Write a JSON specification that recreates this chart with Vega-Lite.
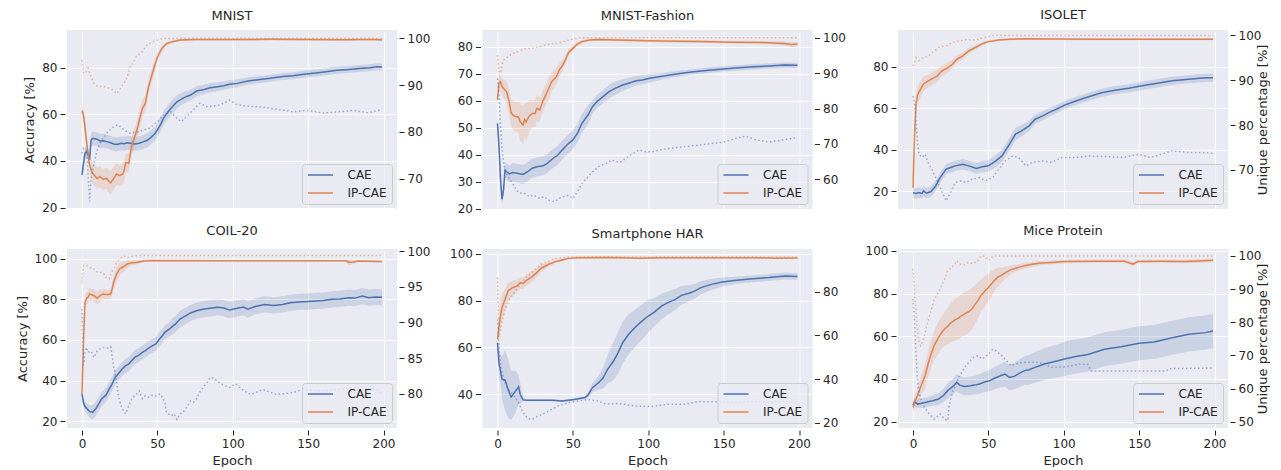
{
"$schema": "https://vega.github.io/schema/vega-lite/v6.json",
"background": "white",
"padding": {"left": 16, "top": 9, "right": 0, "bottom": 0},
"config": {
 "view": {"fill": "#EAEAF2", "stroke": null},
 "axis": {"domain": false, "grid": true, "gridColor": "#FFFFFF", "gridWidth": 1, "gridOpacity": 1, "tickColor": "#262626", "tickSize": 5, "tickWidth": 1, "offset": 2, "labelColor": "#262626", "labelFont": "DejaVu Sans", "labelFontSize": 12, "labelPadding": 3, "titleColor": "#262626", "titleFont": "DejaVu Sans", "titleFontSize": 13, "titleFontWeight": "normal", "titlePadding": 5},
 "title": {"font": "DejaVu Sans", "fontSize": 13, "fontWeight": "normal", "color": "#262626", "offset": 7},
 "legend": {"orient": "bottom-right", "offset": 5, "padding": 5, "fillColor": "rgba(234,234,242,0.8)", "strokeColor": "#CCCCCC", "cornerRadius": 3, "labelFont": "DejaVu Sans", "labelFontSize": 12, "labelColor": "#262626", "symbolType": "M-2.5,0H2.5", "symbolSize": 100, "symbolStrokeWidth": 1.5, "symbolOffset": 7.5, "labelOffset": 21, "rowPadding": 6}
},
"datasets": {
 "acc": [
  {"d":"MNIST","m":"CAE","e":0,"y":34,"lo":31,"hi":37},
  {"d":"MNIST","m":"CAE","e":1,"y":39,"lo":36,"hi":42},
  {"d":"MNIST","m":"CAE","e":2,"y":43.3,"lo":40.8,"hi":45.8},
  {"d":"MNIST","m":"CAE","e":3,"y":44,"lo":41.5,"hi":46.5},
  {"d":"MNIST","m":"CAE","e":4,"y":43,"lo":40.5,"hi":45.5},
  {"d":"MNIST","m":"CAE","e":5,"y":40.4,"lo":37.4,"hi":43.4},
  {"d":"MNIST","m":"CAE","e":6,"y":49,"lo":46,"hi":52},
  {"d":"MNIST","m":"CAE","e":7,"y":49.7,"lo":46.7,"hi":52.7},
  {"d":"MNIST","m":"CAE","e":10,"y":49.3,"lo":46.3,"hi":52.3},
  {"d":"MNIST","m":"CAE","e":12,"y":48.6,"lo":45.6,"hi":51.6},
  {"d":"MNIST","m":"CAE","e":14,"y":48.7,"lo":45.7,"hi":51.7},
  {"d":"MNIST","m":"CAE","e":17,"y":48.2,"lo":45.2,"hi":51.2},
  {"d":"MNIST","m":"CAE","e":19,"y":47.8,"lo":44.8,"hi":50.8},
  {"d":"MNIST","m":"CAE","e":21,"y":47.3,"lo":44.3,"hi":50.3},
  {"d":"MNIST","m":"CAE","e":23,"y":47.1,"lo":44.1,"hi":50.1},
  {"d":"MNIST","m":"CAE","e":26,"y":47.6,"lo":44.6,"hi":50.6},
  {"d":"MNIST","m":"CAE","e":28,"y":47.4,"lo":44.4,"hi":50.4},
  {"d":"MNIST","m":"CAE","e":30,"y":47.8,"lo":44.8,"hi":50.8},
  {"d":"MNIST","m":"CAE","e":32,"y":47.6,"lo":44.6,"hi":50.6},
  {"d":"MNIST","m":"CAE","e":35,"y":47.3,"lo":44.3,"hi":50.3},
  {"d":"MNIST","m":"CAE","e":38,"y":47.6,"lo":44.6,"hi":50.6},
  {"d":"MNIST","m":"CAE","e":41,"y":48.3,"lo":45.3,"hi":51.3},
  {"d":"MNIST","m":"CAE","e":43,"y":48.8,"lo":45.8,"hi":51.8},
  {"d":"MNIST","m":"CAE","e":45,"y":49.7,"lo":46.7,"hi":52.7},
  {"d":"MNIST","m":"CAE","e":48,"y":51.5,"lo":48.5,"hi":54.5},
  {"d":"MNIST","m":"CAE","e":50,"y":53.3,"lo":50.3,"hi":56.3},
  {"d":"MNIST","m":"CAE","e":52,"y":55.5,"lo":52.5,"hi":58.5},
  {"d":"MNIST","m":"CAE","e":54,"y":58.3,"lo":55.3,"hi":61.3},
  {"d":"MNIST","m":"CAE","e":56,"y":60.2,"lo":57.2,"hi":63.2},
  {"d":"MNIST","m":"CAE","e":59,"y":62.6,"lo":59.6,"hi":65.6},
  {"d":"MNIST","m":"CAE","e":61,"y":64,"lo":61,"hi":67},
  {"d":"MNIST","m":"CAE","e":63,"y":65.4,"lo":62.6,"hi":68.2},
  {"d":"MNIST","m":"CAE","e":66,"y":66.5,"lo":63.9,"hi":69.1},
  {"d":"MNIST","m":"CAE","e":68,"y":67.3,"lo":64.8,"hi":69.8},
  {"d":"MNIST","m":"CAE","e":72,"y":68.3,"lo":66,"hi":70.6},
  {"d":"MNIST","m":"CAE","e":76,"y":70,"lo":67.8,"hi":72.2},
  {"d":"MNIST","m":"CAE","e":81,"y":70.7,"lo":68.7,"hi":72.7},
  {"d":"MNIST","m":"CAE","e":85,"y":71.4,"lo":69.4,"hi":73.4},
  {"d":"MNIST","m":"CAE","e":90,"y":71.9,"lo":70,"hi":73.8},
  {"d":"MNIST","m":"CAE","e":94,"y":72.3,"lo":70.5,"hi":74.1},
  {"d":"MNIST","m":"CAE","e":98,"y":72.9,"lo":71.1,"hi":74.7},
  {"d":"MNIST","m":"CAE","e":103,"y":73.3,"lo":71.6,"hi":75},
  {"d":"MNIST","m":"CAE","e":110,"y":74.3,"lo":72.7,"hi":75.9},
  {"d":"MNIST","m":"CAE","e":118,"y":75,"lo":73.5,"hi":76.5},
  {"d":"MNIST","m":"CAE","e":125,"y":75.5,"lo":74,"hi":77},
  {"d":"MNIST","m":"CAE","e":133,"y":76.2,"lo":74.7,"hi":77.7},
  {"d":"MNIST","m":"CAE","e":140,"y":76.6,"lo":75.1,"hi":78.1},
  {"d":"MNIST","m":"CAE","e":147,"y":77.2,"lo":75.7,"hi":78.7},
  {"d":"MNIST","m":"CAE","e":155,"y":77.8,"lo":76.3,"hi":79.3},
  {"d":"MNIST","m":"CAE","e":162,"y":78.3,"lo":76.8,"hi":79.8},
  {"d":"MNIST","m":"CAE","e":169,"y":78.9,"lo":77.4,"hi":80.4},
  {"d":"MNIST","m":"CAE","e":177,"y":79.3,"lo":77.8,"hi":80.8},
  {"d":"MNIST","m":"CAE","e":184,"y":79.7,"lo":78.2,"hi":81.2},
  {"d":"MNIST","m":"CAE","e":191,"y":80,"lo":78.5,"hi":81.5},
  {"d":"MNIST","m":"CAE","e":196,"y":80.4,"lo":78.9,"hi":81.9},
  {"d":"MNIST","m":"CAE","e":199,"y":80.3,"lo":78.8,"hi":81.8},
  {"d":"MNIST","m":"IP-CAE","e":0,"y":61.6,"lo":58.6,"hi":64.6},
  {"d":"MNIST","m":"IP-CAE","e":1,"y":59.5,"lo":56.5,"hi":62.5},
  {"d":"MNIST","m":"IP-CAE","e":2,"y":54.5,"lo":51.5,"hi":57.5},
  {"d":"MNIST","m":"IP-CAE","e":3,"y":48.5,"lo":45.5,"hi":51.5},
  {"d":"MNIST","m":"IP-CAE","e":4,"y":43,"lo":40,"hi":46},
  {"d":"MNIST","m":"IP-CAE","e":5,"y":38.5,"lo":35,"hi":42},
  {"d":"MNIST","m":"IP-CAE","e":6,"y":36.3,"lo":32,"hi":40.6},
  {"d":"MNIST","m":"IP-CAE","e":7,"y":34.8,"lo":30.3,"hi":39.3},
  {"d":"MNIST","m":"IP-CAE","e":9,"y":33.2,"lo":28.7,"hi":37.7},
  {"d":"MNIST","m":"IP-CAE","e":10,"y":32.5,"lo":28,"hi":37},
  {"d":"MNIST","m":"IP-CAE","e":12,"y":33.3,"lo":28.8,"hi":37.8},
  {"d":"MNIST","m":"IP-CAE","e":14,"y":32.1,"lo":27.6,"hi":36.6},
  {"d":"MNIST","m":"IP-CAE","e":16,"y":32.6,"lo":28.1,"hi":37.1},
  {"d":"MNIST","m":"IP-CAE","e":18,"y":31.2,"lo":26.2,"hi":36.2},
  {"d":"MNIST","m":"IP-CAE","e":19,"y":30.6,"lo":25.6,"hi":35.6},
  {"d":"MNIST","m":"IP-CAE","e":21,"y":32.5,"lo":27.5,"hi":37.5},
  {"d":"MNIST","m":"IP-CAE","e":23,"y":34.4,"lo":29.9,"hi":38.9},
  {"d":"MNIST","m":"IP-CAE","e":25,"y":33.7,"lo":29.2,"hi":38.2},
  {"d":"MNIST","m":"IP-CAE","e":27,"y":34.4,"lo":29.9,"hi":38.9},
  {"d":"MNIST","m":"IP-CAE","e":28,"y":36,"lo":31.5,"hi":40.5},
  {"d":"MNIST","m":"IP-CAE","e":29,"y":39.3,"lo":35.3,"hi":43.3},
  {"d":"MNIST","m":"IP-CAE","e":31,"y":39,"lo":35,"hi":43},
  {"d":"MNIST","m":"IP-CAE","e":32,"y":43,"lo":39,"hi":47},
  {"d":"MNIST","m":"IP-CAE","e":33,"y":46.8,"lo":42.8,"hi":50.8},
  {"d":"MNIST","m":"IP-CAE","e":35,"y":50.4,"lo":46.4,"hi":54.4},
  {"d":"MNIST","m":"IP-CAE","e":37,"y":54.7,"lo":50.7,"hi":58.7},
  {"d":"MNIST","m":"IP-CAE","e":39,"y":60,"lo":56,"hi":64},
  {"d":"MNIST","m":"IP-CAE","e":40,"y":62.5,"lo":58.5,"hi":66.5},
  {"d":"MNIST","m":"IP-CAE","e":42,"y":64.7,"lo":61.2,"hi":68.2},
  {"d":"MNIST","m":"IP-CAE","e":44,"y":71.5,"lo":68.5,"hi":74.5},
  {"d":"MNIST","m":"IP-CAE","e":46,"y":76,"lo":73,"hi":79},
  {"d":"MNIST","m":"IP-CAE","e":48,"y":80.5,"lo":78,"hi":83},
  {"d":"MNIST","m":"IP-CAE","e":50,"y":84.5,"lo":82.5,"hi":86.5},
  {"d":"MNIST","m":"IP-CAE","e":51,"y":85.8,"lo":84.3,"hi":87.3},
  {"d":"MNIST","m":"IP-CAE","e":53,"y":88.3,"lo":87,"hi":89.6},
  {"d":"MNIST","m":"IP-CAE","e":56,"y":90.3,"lo":89.5,"hi":91.1},
  {"d":"MNIST","m":"IP-CAE","e":60,"y":91.2,"lo":90.7,"hi":91.7},
  {"d":"MNIST","m":"IP-CAE","e":65,"y":91.9,"lo":91.4,"hi":92.4},
  {"d":"MNIST","m":"IP-CAE","e":75,"y":92.1,"lo":91.6,"hi":92.6},
  {"d":"MNIST","m":"IP-CAE","e":100,"y":92.1,"lo":91.6,"hi":92.6},
  {"d":"MNIST","m":"IP-CAE","e":125,"y":92.2,"lo":91.7,"hi":92.7},
  {"d":"MNIST","m":"IP-CAE","e":150,"y":92.1,"lo":91.6,"hi":92.6},
  {"d":"MNIST","m":"IP-CAE","e":175,"y":92,"lo":91.5,"hi":92.5},
  {"d":"MNIST","m":"IP-CAE","e":185,"y":92.1,"lo":91.6,"hi":92.6},
  {"d":"MNIST","m":"IP-CAE","e":195,"y":92.1,"lo":91.6,"hi":92.6},
  {"d":"MNIST","m":"IP-CAE","e":199,"y":91.9,"lo":91.2,"hi":92.6},

  {"d":"Fashion","m":"CAE","e":0,"y":51.6,"lo":48.6,"hi":54.6},
  {"d":"Fashion","m":"CAE","e":1,"y":43,"lo":40,"hi":46},
  {"d":"Fashion","m":"CAE","e":2,"y":31,"lo":28,"hi":34},
  {"d":"Fashion","m":"CAE","e":3,"y":23.5,"lo":21.5,"hi":25.5},
  {"d":"Fashion","m":"CAE","e":4,"y":27,"lo":25,"hi":29},
  {"d":"Fashion","m":"CAE","e":5,"y":34.3,"lo":31.3,"hi":37.3},
  {"d":"Fashion","m":"CAE","e":6,"y":33.7,"lo":30.7,"hi":36.7},
  {"d":"Fashion","m":"CAE","e":8,"y":32.9,"lo":29.9,"hi":35.9},
  {"d":"Fashion","m":"CAE","e":10,"y":33.4,"lo":29.9,"hi":36.9},
  {"d":"Fashion","m":"CAE","e":13,"y":33.1,"lo":29.6,"hi":36.6},
  {"d":"Fashion","m":"CAE","e":17,"y":32.7,"lo":29.2,"hi":36.2},
  {"d":"Fashion","m":"CAE","e":20,"y":33.7,"lo":30.2,"hi":37.2},
  {"d":"Fashion","m":"CAE","e":23,"y":35,"lo":31.5,"hi":38.5},
  {"d":"Fashion","m":"CAE","e":27,"y":35.6,"lo":32.1,"hi":39.1},
  {"d":"Fashion","m":"CAE","e":30,"y":35.8,"lo":32.3,"hi":39.3},
  {"d":"Fashion","m":"CAE","e":33,"y":36.8,"lo":33.3,"hi":40.3},
  {"d":"Fashion","m":"CAE","e":37,"y":38.7,"lo":35.2,"hi":42.2},
  {"d":"Fashion","m":"CAE","e":40,"y":39.9,"lo":36.4,"hi":43.4},
  {"d":"Fashion","m":"CAE","e":43,"y":41.8,"lo":38.3,"hi":45.3},
  {"d":"Fashion","m":"CAE","e":46,"y":43.6,"lo":40.1,"hi":47.1},
  {"d":"Fashion","m":"CAE","e":50,"y":45.5,"lo":42,"hi":49},
  {"d":"Fashion","m":"CAE","e":53,"y":47.9,"lo":44.4,"hi":51.4},
  {"d":"Fashion","m":"CAE","e":56,"y":51.6,"lo":48.1,"hi":55.1},
  {"d":"Fashion","m":"CAE","e":60,"y":54.7,"lo":51.2,"hi":58.2},
  {"d":"Fashion","m":"CAE","e":63,"y":57.8,"lo":55.3,"hi":60.3},
  {"d":"Fashion","m":"CAE","e":66,"y":59.7,"lo":57.2,"hi":62.2},
  {"d":"Fashion","m":"CAE","e":70,"y":61.5,"lo":59,"hi":64},
  {"d":"Fashion","m":"CAE","e":74,"y":63.4,"lo":60.9,"hi":65.9},
  {"d":"Fashion","m":"CAE","e":78,"y":64.6,"lo":62.1,"hi":67.1},
  {"d":"Fashion","m":"CAE","e":83,"y":65.8,"lo":63.6,"hi":68},
  {"d":"Fashion","m":"CAE","e":87,"y":66.5,"lo":64.5,"hi":68.5},
  {"d":"Fashion","m":"CAE","e":92,"y":67.4,"lo":65.6,"hi":69.2},
  {"d":"Fashion","m":"CAE","e":96,"y":67.7,"lo":66,"hi":69.4},
  {"d":"Fashion","m":"CAE","e":101,"y":68.3,"lo":66.8,"hi":69.8},
  {"d":"Fashion","m":"CAE","e":110,"y":69.2,"lo":68,"hi":70.4},
  {"d":"Fashion","m":"CAE","e":120,"y":70,"lo":68.9,"hi":71.1},
  {"d":"Fashion","m":"CAE","e":130,"y":70.7,"lo":69.7,"hi":71.7},
  {"d":"Fashion","m":"CAE","e":140,"y":71.3,"lo":70.3,"hi":72.3},
  {"d":"Fashion","m":"CAE","e":150,"y":71.8,"lo":70.8,"hi":72.8},
  {"d":"Fashion","m":"CAE","e":160,"y":72.2,"lo":71.2,"hi":73.2},
  {"d":"Fashion","m":"CAE","e":170,"y":72.6,"lo":71.6,"hi":73.6},
  {"d":"Fashion","m":"CAE","e":180,"y":72.9,"lo":71.9,"hi":73.9},
  {"d":"Fashion","m":"CAE","e":190,"y":73.2,"lo":72.2,"hi":74.2},
  {"d":"Fashion","m":"CAE","e":199,"y":73.1,"lo":72.1,"hi":74.1},
  {"d":"Fashion","m":"IP-CAE","e":0,"y":60.3,"lo":57.3,"hi":63.3},
  {"d":"Fashion","m":"IP-CAE","e":1,"y":66.8,"lo":63.8,"hi":69.8},
  {"d":"Fashion","m":"IP-CAE","e":2,"y":67.1,"lo":64.1,"hi":70.1},
  {"d":"Fashion","m":"IP-CAE","e":3,"y":65.2,"lo":62.2,"hi":68.2},
  {"d":"Fashion","m":"IP-CAE","e":4,"y":64.5,"lo":61,"hi":68},
  {"d":"Fashion","m":"IP-CAE","e":6,"y":63.4,"lo":59.4,"hi":67.4},
  {"d":"Fashion","m":"IP-CAE","e":8,"y":59,"lo":54,"hi":64},
  {"d":"Fashion","m":"IP-CAE","e":9,"y":55.5,"lo":50.5,"hi":60.5},
  {"d":"Fashion","m":"IP-CAE","e":11,"y":54.3,"lo":48.8,"hi":59.8},
  {"d":"Fashion","m":"IP-CAE","e":13,"y":54.1,"lo":48.6,"hi":59.6},
  {"d":"Fashion","m":"IP-CAE","e":14,"y":53.9,"lo":47.9,"hi":59.9},
  {"d":"Fashion","m":"IP-CAE","e":15,"y":52.2,"lo":45.2,"hi":59.2},
  {"d":"Fashion","m":"IP-CAE","e":17,"y":51,"lo":44,"hi":58},
  {"d":"Fashion","m":"IP-CAE","e":18,"y":53.1,"lo":47.1,"hi":59.1},
  {"d":"Fashion","m":"IP-CAE","e":19,"y":52.2,"lo":45.2,"hi":59.2},
  {"d":"Fashion","m":"IP-CAE","e":21,"y":54.3,"lo":48.3,"hi":60.3},
  {"d":"Fashion","m":"IP-CAE","e":23,"y":55.3,"lo":50.3,"hi":60.3},
  {"d":"Fashion","m":"IP-CAE","e":25,"y":55.3,"lo":50.3,"hi":60.3},
  {"d":"Fashion","m":"IP-CAE","e":26,"y":57.2,"lo":52.2,"hi":62.2},
  {"d":"Fashion","m":"IP-CAE","e":28,"y":56.6,"lo":52.1,"hi":61.1},
  {"d":"Fashion","m":"IP-CAE","e":30,"y":59.7,"lo":55.7,"hi":63.7},
  {"d":"Fashion","m":"IP-CAE","e":32,"y":62.1,"lo":58.1,"hi":66.1},
  {"d":"Fashion","m":"IP-CAE","e":34,"y":64.6,"lo":60.6,"hi":68.6},
  {"d":"Fashion","m":"IP-CAE","e":36,"y":67.1,"lo":63.6,"hi":70.6},
  {"d":"Fashion","m":"IP-CAE","e":39,"y":68.9,"lo":65.9,"hi":71.9},
  {"d":"Fashion","m":"IP-CAE","e":41,"y":71.4,"lo":68.9,"hi":73.9},
  {"d":"Fashion","m":"IP-CAE","e":43,"y":72.9,"lo":70.9,"hi":74.9},
  {"d":"Fashion","m":"IP-CAE","e":45,"y":75.1,"lo":73.6,"hi":76.6},
  {"d":"Fashion","m":"IP-CAE","e":47,"y":77.8,"lo":76.6,"hi":79},
  {"d":"Fashion","m":"IP-CAE","e":50,"y":79.4,"lo":78.4,"hi":80.4},
  {"d":"Fashion","m":"IP-CAE","e":53,"y":81,"lo":80.2,"hi":81.8},
  {"d":"Fashion","m":"IP-CAE","e":56,"y":81.9,"lo":81.3,"hi":82.5},
  {"d":"Fashion","m":"IP-CAE","e":61,"y":82.5,"lo":82,"hi":83},
  {"d":"Fashion","m":"IP-CAE","e":67,"y":82.7,"lo":82.2,"hi":83.2},
  {"d":"Fashion","m":"IP-CAE","e":79,"y":82.5,"lo":82,"hi":83},
  {"d":"Fashion","m":"IP-CAE","e":100,"y":82.2,"lo":81.7,"hi":82.7},
  {"d":"Fashion","m":"IP-CAE","e":120,"y":82,"lo":81.5,"hi":82.5},
  {"d":"Fashion","m":"IP-CAE","e":135,"y":81.9,"lo":81.4,"hi":82.4},
  {"d":"Fashion","m":"IP-CAE","e":155,"y":81.7,"lo":81.2,"hi":82.2},
  {"d":"Fashion","m":"IP-CAE","e":180,"y":81.5,"lo":80.9,"hi":82.1},
  {"d":"Fashion","m":"IP-CAE","e":190,"y":81.2,"lo":80.5,"hi":81.9},
  {"d":"Fashion","m":"IP-CAE","e":195,"y":80.8,"lo":80,"hi":81.6},
  {"d":"Fashion","m":"IP-CAE","e":199,"y":81,"lo":80.2,"hi":81.8},

  {"d":"ISOLET","m":"CAE","e":0,"y":19.4,"lo":16.9,"hi":21.9},
  {"d":"ISOLET","m":"CAE","e":2,"y":19,"lo":16.5,"hi":21.5},
  {"d":"ISOLET","m":"CAE","e":4,"y":19.4,"lo":16.9,"hi":21.9},
  {"d":"ISOLET","m":"CAE","e":6,"y":19,"lo":16.5,"hi":21.5},
  {"d":"ISOLET","m":"CAE","e":7,"y":20.2,"lo":17.7,"hi":22.7},
  {"d":"ISOLET","m":"CAE","e":9,"y":19.1,"lo":16.6,"hi":21.6},
  {"d":"ISOLET","m":"CAE","e":12,"y":19.9,"lo":17.4,"hi":22.4},
  {"d":"ISOLET","m":"CAE","e":15,"y":22.6,"lo":20.1,"hi":25.1},
  {"d":"ISOLET","m":"CAE","e":18,"y":26.6,"lo":24.1,"hi":29.1},
  {"d":"ISOLET","m":"CAE","e":22,"y":30.7,"lo":28.2,"hi":33.2},
  {"d":"ISOLET","m":"CAE","e":25,"y":31.5,"lo":29,"hi":34},
  {"d":"ISOLET","m":"CAE","e":28,"y":32.3,"lo":29.8,"hi":34.8},
  {"d":"ISOLET","m":"CAE","e":33,"y":33.1,"lo":30.6,"hi":35.6},
  {"d":"ISOLET","m":"CAE","e":37,"y":32.3,"lo":29.8,"hi":34.8},
  {"d":"ISOLET","m":"CAE","e":42,"y":31,"lo":28.5,"hi":33.5},
  {"d":"ISOLET","m":"CAE","e":46,"y":31.9,"lo":29.2,"hi":34.6},
  {"d":"ISOLET","m":"CAE","e":50,"y":32.3,"lo":29.5,"hi":35.1},
  {"d":"ISOLET","m":"CAE","e":55,"y":34.7,"lo":31.7,"hi":37.7},
  {"d":"ISOLET","m":"CAE","e":59,"y":37.1,"lo":34.1,"hi":40.1},
  {"d":"ISOLET","m":"CAE","e":64,"y":42.8,"lo":39.8,"hi":45.8},
  {"d":"ISOLET","m":"CAE","e":68,"y":47.6,"lo":44.6,"hi":50.6},
  {"d":"ISOLET","m":"CAE","e":72,"y":49.2,"lo":46.4,"hi":52},
  {"d":"ISOLET","m":"CAE","e":77,"y":51.6,"lo":49,"hi":54.2},
  {"d":"ISOLET","m":"CAE","e":81,"y":54.8,"lo":52.5,"hi":57.1},
  {"d":"ISOLET","m":"CAE","e":86,"y":56.4,"lo":54.2,"hi":58.6},
  {"d":"ISOLET","m":"CAE","e":90,"y":58,"lo":55.9,"hi":60.1},
  {"d":"ISOLET","m":"CAE","e":95,"y":59.6,"lo":57.6,"hi":61.6},
  {"d":"ISOLET","m":"CAE","e":101,"y":61.7,"lo":59.7,"hi":63.7},
  {"d":"ISOLET","m":"CAE","e":108,"y":63.6,"lo":61.6,"hi":65.6},
  {"d":"ISOLET","m":"CAE","e":117,"y":65.7,"lo":63.7,"hi":67.7},
  {"d":"ISOLET","m":"CAE","e":125,"y":67.5,"lo":65.5,"hi":69.5},
  {"d":"ISOLET","m":"CAE","e":134,"y":68.8,"lo":66.8,"hi":70.8},
  {"d":"ISOLET","m":"CAE","e":143,"y":69.7,"lo":67.7,"hi":71.7},
  {"d":"ISOLET","m":"CAE","e":152,"y":70.9,"lo":68.9,"hi":72.9},
  {"d":"ISOLET","m":"CAE","e":161,"y":72,"lo":70,"hi":74},
  {"d":"ISOLET","m":"CAE","e":172,"y":73.3,"lo":71.3,"hi":75.3},
  {"d":"ISOLET","m":"CAE","e":183,"y":74.1,"lo":72.1,"hi":76.1},
  {"d":"ISOLET","m":"CAE","e":192,"y":74.6,"lo":72.6,"hi":76.6},
  {"d":"ISOLET","m":"CAE","e":199,"y":74.8,"lo":72.8,"hi":76.8},
  {"d":"ISOLET","m":"IP-CAE","e":0,"y":21.8,"lo":19.8,"hi":23.8},
  {"d":"ISOLET","m":"IP-CAE","e":1,"y":47,"lo":41,"hi":53},
  {"d":"ISOLET","m":"IP-CAE","e":2,"y":62,"lo":57,"hi":67},
  {"d":"ISOLET","m":"IP-CAE","e":3,"y":66.5,"lo":62.5,"hi":70.5},
  {"d":"ISOLET","m":"IP-CAE","e":5,"y":69.2,"lo":65.2,"hi":73.2},
  {"d":"ISOLET","m":"IP-CAE","e":7,"y":71.9,"lo":68.4,"hi":75.4},
  {"d":"ISOLET","m":"IP-CAE","e":10,"y":73.2,"lo":70.2,"hi":76.2},
  {"d":"ISOLET","m":"IP-CAE","e":13,"y":74.5,"lo":71.5,"hi":77.5},
  {"d":"ISOLET","m":"IP-CAE","e":16,"y":75.6,"lo":72.6,"hi":78.6},
  {"d":"ISOLET","m":"IP-CAE","e":19,"y":78,"lo":75.5,"hi":80.5},
  {"d":"ISOLET","m":"IP-CAE","e":23,"y":79.6,"lo":77.1,"hi":82.1},
  {"d":"ISOLET","m":"IP-CAE","e":26,"y":81.2,"lo":79.2,"hi":83.2},
  {"d":"ISOLET","m":"IP-CAE","e":29,"y":83.7,"lo":81.7,"hi":85.7},
  {"d":"ISOLET","m":"IP-CAE","e":33,"y":85.3,"lo":83.8,"hi":86.8},
  {"d":"ISOLET","m":"IP-CAE","e":37,"y":87.7,"lo":86.2,"hi":89.2},
  {"d":"ISOLET","m":"IP-CAE","e":42,"y":89.6,"lo":88.6,"hi":90.6},
  {"d":"ISOLET","m":"IP-CAE","e":46,"y":91.2,"lo":90.4,"hi":92},
  {"d":"ISOLET","m":"IP-CAE","e":50,"y":92.2,"lo":91.6,"hi":92.8},
  {"d":"ISOLET","m":"IP-CAE","e":57,"y":93,"lo":92.5,"hi":93.5},
  {"d":"ISOLET","m":"IP-CAE","e":64,"y":93.3,"lo":92.8,"hi":93.8},
  {"d":"ISOLET","m":"IP-CAE","e":73,"y":93.6,"lo":93.1,"hi":94.1},
  {"d":"ISOLET","m":"IP-CAE","e":95,"y":93.5,"lo":93,"hi":94},
  {"d":"ISOLET","m":"IP-CAE","e":120,"y":93.3,"lo":92.8,"hi":93.8},
  {"d":"ISOLET","m":"IP-CAE","e":150,"y":93.3,"lo":92.8,"hi":93.8},
  {"d":"ISOLET","m":"IP-CAE","e":175,"y":93.3,"lo":92.8,"hi":93.8},
  {"d":"ISOLET","m":"IP-CAE","e":199,"y":93.3,"lo":92.8,"hi":93.8},

  {"d":"COIL","m":"CAE","e":0,"y":33.3,"lo":31.8,"hi":34.8},
  {"d":"COIL","m":"CAE","e":1,"y":29,"lo":27,"hi":31},
  {"d":"COIL","m":"CAE","e":2,"y":27.2,"lo":24.7,"hi":29.7},
  {"d":"COIL","m":"CAE","e":3,"y":26.3,"lo":23.8,"hi":28.8},
  {"d":"COIL","m":"CAE","e":5,"y":24.8,"lo":21.8,"hi":27.8},
  {"d":"COIL","m":"CAE","e":7,"y":24.3,"lo":20.8,"hi":27.8},
  {"d":"COIL","m":"CAE","e":9,"y":25.9,"lo":22.4,"hi":29.4},
  {"d":"COIL","m":"CAE","e":11,"y":28.4,"lo":24.9,"hi":31.9},
  {"d":"COIL","m":"CAE","e":13,"y":30.9,"lo":27.4,"hi":34.4},
  {"d":"COIL","m":"CAE","e":16,"y":32.9,"lo":29.4,"hi":36.4},
  {"d":"COIL","m":"CAE","e":18,"y":35.8,"lo":32.3,"hi":39.3},
  {"d":"COIL","m":"CAE","e":20,"y":38.3,"lo":34.8,"hi":41.8},
  {"d":"COIL","m":"CAE","e":22,"y":41.6,"lo":38.1,"hi":45.1},
  {"d":"COIL","m":"CAE","e":24,"y":43.2,"lo":39.7,"hi":46.7},
  {"d":"COIL","m":"CAE","e":27,"y":46,"lo":42.5,"hi":49.5},
  {"d":"COIL","m":"CAE","e":29,"y":47.3,"lo":43.8,"hi":50.8},
  {"d":"COIL","m":"CAE","e":31,"y":48.1,"lo":44.6,"hi":51.6},
  {"d":"COIL","m":"CAE","e":33,"y":49.8,"lo":46.3,"hi":53.3},
  {"d":"COIL","m":"CAE","e":35,"y":51.4,"lo":47.9,"hi":54.9},
  {"d":"COIL","m":"CAE","e":38,"y":52.6,"lo":49.1,"hi":56.1},
  {"d":"COIL","m":"CAE","e":40,"y":53.9,"lo":50.4,"hi":57.4},
  {"d":"COIL","m":"CAE","e":42,"y":54.7,"lo":51.2,"hi":58.2},
  {"d":"COIL","m":"CAE","e":44,"y":55.9,"lo":52.4,"hi":59.4},
  {"d":"COIL","m":"CAE","e":46,"y":56.8,"lo":53.3,"hi":60.3},
  {"d":"COIL","m":"CAE","e":49,"y":58,"lo":54.5,"hi":61.5},
  {"d":"COIL","m":"CAE","e":51,"y":60.1,"lo":56.6,"hi":63.6},
  {"d":"COIL","m":"CAE","e":53,"y":61.8,"lo":58.3,"hi":65.3},
  {"d":"COIL","m":"CAE","e":55,"y":63.7,"lo":60.2,"hi":67.2},
  {"d":"COIL","m":"CAE","e":58,"y":65.4,"lo":61.9,"hi":68.9},
  {"d":"COIL","m":"CAE","e":60,"y":66.7,"lo":62.7,"hi":70.7},
  {"d":"COIL","m":"CAE","e":62,"y":67.8,"lo":63.8,"hi":71.8},
  {"d":"COIL","m":"CAE","e":65,"y":70.3,"lo":66.3,"hi":74.3},
  {"d":"COIL","m":"CAE","e":69,"y":72,"lo":68,"hi":76},
  {"d":"COIL","m":"CAE","e":72,"y":73.3,"lo":69.3,"hi":77.3},
  {"d":"COIL","m":"CAE","e":76,"y":74.4,"lo":70.4,"hi":78.4},
  {"d":"COIL","m":"CAE","e":81,"y":75.2,"lo":71.2,"hi":79.2},
  {"d":"COIL","m":"CAE","e":85,"y":75.6,"lo":71.6,"hi":79.6},
  {"d":"COIL","m":"CAE","e":90,"y":76.1,"lo":72.1,"hi":80.1},
  {"d":"COIL","m":"CAE","e":94,"y":75.7,"lo":71.7,"hi":79.7},
  {"d":"COIL","m":"CAE","e":98,"y":74.7,"lo":70.7,"hi":78.7},
  {"d":"COIL","m":"CAE","e":103,"y":75.6,"lo":71.6,"hi":79.6},
  {"d":"COIL","m":"CAE","e":107,"y":76.2,"lo":72.2,"hi":80.2},
  {"d":"COIL","m":"CAE","e":110,"y":75.1,"lo":71.1,"hi":79.1},
  {"d":"COIL","m":"CAE","e":115,"y":76.5,"lo":72.5,"hi":80.5},
  {"d":"COIL","m":"CAE","e":121,"y":77.5,"lo":73.5,"hi":81.5},
  {"d":"COIL","m":"CAE","e":127,"y":77,"lo":73,"hi":81},
  {"d":"COIL","m":"CAE","e":133,"y":77.5,"lo":73.5,"hi":81.5},
  {"d":"COIL","m":"CAE","e":138,"y":78.3,"lo":74.3,"hi":82.3},
  {"d":"COIL","m":"CAE","e":144,"y":78.7,"lo":74.7,"hi":82.7},
  {"d":"COIL","m":"CAE","e":150,"y":78.9,"lo":74.9,"hi":82.9},
  {"d":"COIL","m":"CAE","e":155,"y":79.2,"lo":75.2,"hi":83.2},
  {"d":"COIL","m":"CAE","e":160,"y":79.4,"lo":75.4,"hi":83.4},
  {"d":"COIL","m":"CAE","e":166,"y":80,"lo":76,"hi":84},
  {"d":"COIL","m":"CAE","e":171,"y":80.2,"lo":76.2,"hi":84.2},
  {"d":"COIL","m":"CAE","e":177,"y":80.8,"lo":76.8,"hi":84.8},
  {"d":"COIL","m":"CAE","e":181,"y":80.6,"lo":76.6,"hi":84.6},
  {"d":"COIL","m":"CAE","e":186,"y":81.6,"lo":77.6,"hi":85.6},
  {"d":"COIL","m":"CAE","e":190,"y":80.8,"lo":76.8,"hi":84.8},
  {"d":"COIL","m":"CAE","e":195,"y":81.1,"lo":77.1,"hi":85.1},
  {"d":"COIL","m":"CAE","e":199,"y":81,"lo":77,"hi":85},
  {"d":"COIL","m":"IP-CAE","e":0,"y":33.3,"lo":31.3,"hi":35.3},
  {"d":"COIL","m":"IP-CAE","e":1,"y":60,"lo":55,"hi":65},
  {"d":"COIL","m":"IP-CAE","e":2,"y":78.5,"lo":74.5,"hi":82.5},
  {"d":"COIL","m":"IP-CAE","e":3,"y":80.5,"lo":77.5,"hi":83.5},
  {"d":"COIL","m":"IP-CAE","e":4,"y":81,"lo":78,"hi":84},
  {"d":"COIL","m":"IP-CAE","e":5,"y":82.6,"lo":79.6,"hi":85.6},
  {"d":"COIL","m":"IP-CAE","e":8,"y":81.8,"lo":78.8,"hi":84.8},
  {"d":"COIL","m":"IP-CAE","e":10,"y":80.5,"lo":77.5,"hi":83.5},
  {"d":"COIL","m":"IP-CAE","e":12,"y":81.8,"lo":78.8,"hi":84.8},
  {"d":"COIL","m":"IP-CAE","e":14,"y":82.6,"lo":80.1,"hi":85.1},
  {"d":"COIL","m":"IP-CAE","e":17,"y":82.3,"lo":79.8,"hi":84.8},
  {"d":"COIL","m":"IP-CAE","e":19,"y":82.6,"lo":80.1,"hi":85.1},
  {"d":"COIL","m":"IP-CAE","e":20,"y":85.1,"lo":82.1,"hi":88.1},
  {"d":"COIL","m":"IP-CAE","e":21,"y":88.4,"lo":84.9,"hi":91.9},
  {"d":"COIL","m":"IP-CAE","e":23,"y":92.5,"lo":89,"hi":96},
  {"d":"COIL","m":"IP-CAE","e":25,"y":95,"lo":92,"hi":98},
  {"d":"COIL","m":"IP-CAE","e":28,"y":96.3,"lo":93.8,"hi":98.8},
  {"d":"COIL","m":"IP-CAE","e":30,"y":97.4,"lo":95.4,"hi":99.4},
  {"d":"COIL","m":"IP-CAE","e":32,"y":97.9,"lo":96.4,"hi":99.4},
  {"d":"COIL","m":"IP-CAE","e":36,"y":98.2,"lo":97.2,"hi":99.2},
  {"d":"COIL","m":"IP-CAE","e":41,"y":98.9,"lo":98.3,"hi":99.5},
  {"d":"COIL","m":"IP-CAE","e":45,"y":99.1,"lo":98.7,"hi":99.5},
  {"d":"COIL","m":"IP-CAE","e":100,"y":99,"lo":98.6,"hi":99.4},
  {"d":"COIL","m":"IP-CAE","e":150,"y":99,"lo":98.6,"hi":99.4},
  {"d":"COIL","m":"IP-CAE","e":175,"y":99,"lo":98.5,"hi":99.5},
  {"d":"COIL","m":"IP-CAE","e":177,"y":98.3,"lo":96.8,"hi":99.8},
  {"d":"COIL","m":"IP-CAE","e":180,"y":98.4,"lo":97.4,"hi":99.4},
  {"d":"COIL","m":"IP-CAE","e":183,"y":98.9,"lo":98.3,"hi":99.5},
  {"d":"COIL","m":"IP-CAE","e":190,"y":98.8,"lo":98.3,"hi":99.3},
  {"d":"COIL","m":"IP-CAE","e":199,"y":98.6,"lo":98.1,"hi":99.1},

  {"d":"HAR","m":"CAE","e":0,"y":62,"lo":61,"hi":63},
  {"d":"HAR","m":"CAE","e":1,"y":53,"lo":47,"hi":59},
  {"d":"HAR","m":"CAE","e":2,"y":50,"lo":44,"hi":57},
  {"d":"HAR","m":"CAE","e":3,"y":46.4,"lo":38,"hi":56},
  {"d":"HAR","m":"CAE","e":5,"y":46.1,"lo":33,"hi":59},
  {"d":"HAR","m":"CAE","e":7,"y":42.1,"lo":30,"hi":55},
  {"d":"HAR","m":"CAE","e":9,"y":38.8,"lo":29,"hi":50},
  {"d":"HAR","m":"CAE","e":12,"y":41.4,"lo":32,"hi":50},
  {"d":"HAR","m":"CAE","e":14,"y":43.2,"lo":36,"hi":48},
  {"d":"HAR","m":"CAE","e":15,"y":40,"lo":36,"hi":45},
  {"d":"HAR","m":"CAE","e":17,"y":37.6,"lo":37,"hi":38.5},
  {"d":"HAR","m":"CAE","e":20,"y":37.4,"lo":37,"hi":37.9},
  {"d":"HAR","m":"CAE","e":36,"y":37.4,"lo":37,"hi":37.9},
  {"d":"HAR","m":"CAE","e":43,"y":37.1,"lo":36.7,"hi":37.6},
  {"d":"HAR","m":"CAE","e":51,"y":37.8,"lo":37.3,"hi":38.3},
  {"d":"HAR","m":"CAE","e":58,"y":38.6,"lo":38,"hi":39.2},
  {"d":"HAR","m":"CAE","e":60,"y":39.6,"lo":38.6,"hi":40.6},
  {"d":"HAR","m":"CAE","e":63,"y":42.8,"lo":40.8,"hi":44.8},
  {"d":"HAR","m":"CAE","e":67,"y":44.9,"lo":41.9,"hi":47.9},
  {"d":"HAR","m":"CAE","e":70,"y":46.9,"lo":42.4,"hi":51.4},
  {"d":"HAR","m":"CAE","e":73,"y":50.6,"lo":44.6,"hi":56.6},
  {"d":"HAR","m":"CAE","e":77,"y":54.2,"lo":46.2,"hi":62.2},
  {"d":"HAR","m":"CAE","e":80,"y":57.8,"lo":48.8,"hi":66.8},
  {"d":"HAR","m":"CAE","e":83,"y":62,"lo":53,"hi":71},
  {"d":"HAR","m":"CAE","e":87,"y":65.6,"lo":57,"hi":74},
  {"d":"HAR","m":"CAE","e":91,"y":68.4,"lo":60,"hi":76},
  {"d":"HAR","m":"CAE","e":96,"y":71.3,"lo":63.5,"hi":78.5},
  {"d":"HAR","m":"CAE","e":100,"y":73.4,"lo":66.4,"hi":80.4},
  {"d":"HAR","m":"CAE","e":104,"y":75.1,"lo":69,"hi":81},
  {"d":"HAR","m":"CAE","e":109,"y":77.7,"lo":72,"hi":83},
  {"d":"HAR","m":"CAE","e":113,"y":79.1,"lo":74,"hi":84},
  {"d":"HAR","m":"CAE","e":118,"y":80.5,"lo":76,"hi":85},
  {"d":"HAR","m":"CAE","e":122,"y":82.2,"lo":78.2,"hi":86.2},
  {"d":"HAR","m":"CAE","e":127,"y":83.1,"lo":79.6,"hi":86.6},
  {"d":"HAR","m":"CAE","e":131,"y":84.1,"lo":81,"hi":87.2},
  {"d":"HAR","m":"CAE","e":135,"y":85.5,"lo":82.7,"hi":88.3},
  {"d":"HAR","m":"CAE","e":142,"y":86.9,"lo":84.5,"hi":89.3},
  {"d":"HAR","m":"CAE","e":149,"y":87.9,"lo":86,"hi":89.8},
  {"d":"HAR","m":"CAE","e":157,"y":88.6,"lo":87,"hi":90.2},
  {"d":"HAR","m":"CAE","e":169,"y":89.3,"lo":87.8,"hi":90.8},
  {"d":"HAR","m":"CAE","e":180,"y":89.8,"lo":88.3,"hi":91.3},
  {"d":"HAR","m":"CAE","e":191,"y":90.5,"lo":89,"hi":92},
  {"d":"HAR","m":"CAE","e":199,"y":90.3,"lo":88.8,"hi":91.8},
  {"d":"HAR","m":"IP-CAE","e":0,"y":63.5,"lo":61,"hi":66},
  {"d":"HAR","m":"IP-CAE","e":1,"y":69,"lo":64,"hi":75},
  {"d":"HAR","m":"IP-CAE","e":2,"y":73.4,"lo":68,"hi":80},
  {"d":"HAR","m":"IP-CAE","e":3,"y":77,"lo":71.5,"hi":83},
  {"d":"HAR","m":"IP-CAE","e":5,"y":80.5,"lo":76,"hi":85},
  {"d":"HAR","m":"IP-CAE","e":7,"y":84.1,"lo":80,"hi":87.5},
  {"d":"HAR","m":"IP-CAE","e":10,"y":85.5,"lo":82,"hi":88.5},
  {"d":"HAR","m":"IP-CAE","e":13,"y":86.2,"lo":83.5,"hi":89},
  {"d":"HAR","m":"IP-CAE","e":15,"y":87.6,"lo":85,"hi":90},
  {"d":"HAR","m":"IP-CAE","e":17,"y":87.3,"lo":84.8,"hi":89.8},
  {"d":"HAR","m":"IP-CAE","e":19,"y":88.5,"lo":86,"hi":91},
  {"d":"HAR","m":"IP-CAE","e":23,"y":90.2,"lo":88,"hi":92.4},
  {"d":"HAR","m":"IP-CAE","e":26,"y":91.9,"lo":90,"hi":93.8},
  {"d":"HAR","m":"IP-CAE","e":29,"y":93.8,"lo":92.3,"hi":95.3},
  {"d":"HAR","m":"IP-CAE","e":34,"y":95.5,"lo":94.5,"hi":96.5},
  {"d":"HAR","m":"IP-CAE","e":38,"y":96.5,"lo":95.8,"hi":97.2},
  {"d":"HAR","m":"IP-CAE","e":43,"y":97.3,"lo":96.8,"hi":97.8},
  {"d":"HAR","m":"IP-CAE","e":47,"y":98,"lo":97.6,"hi":98.4},
  {"d":"HAR","m":"IP-CAE","e":54,"y":98.3,"lo":97.9,"hi":98.7},
  {"d":"HAR","m":"IP-CAE","e":75,"y":98.4,"lo":98,"hi":98.8},
  {"d":"HAR","m":"IP-CAE","e":95,"y":98,"lo":97.6,"hi":98.4},
  {"d":"HAR","m":"IP-CAE","e":110,"y":98.3,"lo":97.9,"hi":98.7},
  {"d":"HAR","m":"IP-CAE","e":140,"y":98.3,"lo":97.9,"hi":98.7},
  {"d":"HAR","m":"IP-CAE","e":170,"y":98.3,"lo":97.9,"hi":98.7},
  {"d":"HAR","m":"IP-CAE","e":185,"y":98.1,"lo":97.7,"hi":98.5},
  {"d":"HAR","m":"IP-CAE","e":199,"y":98.2,"lo":97.8,"hi":98.6},

  {"d":"Mice","m":"CAE","e":0,"y":27.8,"lo":25.8,"hi":29.8},
  {"d":"Mice","m":"CAE","e":1,"y":29.3,"lo":27.3,"hi":31.3},
  {"d":"Mice","m":"CAE","e":3,"y":28.2,"lo":26.2,"hi":30.2},
  {"d":"Mice","m":"CAE","e":7,"y":28.7,"lo":26.5,"hi":30.9},
  {"d":"Mice","m":"CAE","e":10,"y":29.3,"lo":27,"hi":31.6},
  {"d":"Mice","m":"CAE","e":13,"y":29.8,"lo":27.3,"hi":32.3},
  {"d":"Mice","m":"CAE","e":17,"y":30.6,"lo":27.8,"hi":33.4},
  {"d":"Mice","m":"CAE","e":20,"y":32.1,"lo":29,"hi":35.2},
  {"d":"Mice","m":"CAE","e":23,"y":34.5,"lo":31,"hi":38},
  {"d":"Mice","m":"CAE","e":27,"y":36.8,"lo":33,"hi":40.6},
  {"d":"Mice","m":"CAE","e":29,"y":38.4,"lo":34.4,"hi":42.4},
  {"d":"Mice","m":"CAE","e":31,"y":37.1,"lo":33,"hi":41.2},
  {"d":"Mice","m":"CAE","e":34,"y":36.5,"lo":32.3,"hi":40.7},
  {"d":"Mice","m":"CAE","e":38,"y":36.8,"lo":32.5,"hi":41.1},
  {"d":"Mice","m":"CAE","e":41,"y":37.1,"lo":32.7,"hi":41.5},
  {"d":"Mice","m":"CAE","e":44,"y":37.6,"lo":33,"hi":42.2},
  {"d":"Mice","m":"CAE","e":48,"y":38.7,"lo":33.9,"hi":43.5},
  {"d":"Mice","m":"CAE","e":51,"y":39.2,"lo":34.2,"hi":44.2},
  {"d":"Mice","m":"CAE","e":54,"y":40.3,"lo":35,"hi":45.6},
  {"d":"Mice","m":"CAE","e":58,"y":41.5,"lo":36,"hi":47},
  {"d":"Mice","m":"CAE","e":61,"y":42.3,"lo":36.5,"hi":48.1},
  {"d":"Mice","m":"CAE","e":64,"y":40.7,"lo":34.7,"hi":46.7},
  {"d":"Mice","m":"CAE","e":67,"y":41.2,"lo":35,"hi":47.4},
  {"d":"Mice","m":"CAE","e":71,"y":42.8,"lo":36.3,"hi":49.3},
  {"d":"Mice","m":"CAE","e":74,"y":43.9,"lo":37.2,"hi":50.6},
  {"d":"Mice","m":"CAE","e":77,"y":44.3,"lo":37.3,"hi":51.3},
  {"d":"Mice","m":"CAE","e":81,"y":45.4,"lo":38.2,"hi":52.6},
  {"d":"Mice","m":"CAE","e":84,"y":46.2,"lo":38.8,"hi":53.6},
  {"d":"Mice","m":"CAE","e":87,"y":47,"lo":39.5,"hi":54.5},
  {"d":"Mice","m":"CAE","e":92,"y":47.8,"lo":40.2,"hi":55.4},
  {"d":"Mice","m":"CAE","e":96,"y":48.5,"lo":40.7,"hi":56.3},
  {"d":"Mice","m":"CAE","e":101,"y":49.5,"lo":41.5,"hi":57.5},
  {"d":"Mice","m":"CAE","e":108,"y":50.5,"lo":42.5,"hi":58.5},
  {"d":"Mice","m":"CAE","e":116,"y":51.5,"lo":43.5,"hi":59.5},
  {"d":"Mice","m":"CAE","e":127,"y":53.9,"lo":45.9,"hi":61.9},
  {"d":"Mice","m":"CAE","e":138,"y":55.1,"lo":47.1,"hi":63.1},
  {"d":"Mice","m":"CAE","e":150,"y":56.7,"lo":48.7,"hi":64.7},
  {"d":"Mice","m":"CAE","e":160,"y":57.3,"lo":49.3,"hi":65.3},
  {"d":"Mice","m":"CAE","e":172,"y":59.3,"lo":51.3,"hi":67.3},
  {"d":"Mice","m":"CAE","e":183,"y":60.9,"lo":52.9,"hi":68.9},
  {"d":"Mice","m":"CAE","e":194,"y":61.7,"lo":53.7,"hi":69.7},
  {"d":"Mice","m":"CAE","e":199,"y":62.5,"lo":54.5,"hi":70.5},
  {"d":"Mice","m":"IP-CAE","e":0,"y":26.7,"lo":24,"hi":29.4},
  {"d":"Mice","m":"IP-CAE","e":1,"y":29,"lo":26,"hi":32},
  {"d":"Mice","m":"IP-CAE","e":3,"y":32.2,"lo":28.5,"hi":36},
  {"d":"Mice","m":"IP-CAE","e":5,"y":36.1,"lo":31.5,"hi":40.7},
  {"d":"Mice","m":"IP-CAE","e":8,"y":41.5,"lo":36,"hi":47},
  {"d":"Mice","m":"IP-CAE","e":10,"y":47,"lo":41,"hi":53},
  {"d":"Mice","m":"IP-CAE","e":12,"y":51.7,"lo":45.2,"hi":58.2},
  {"d":"Mice","m":"IP-CAE","e":14,"y":55.6,"lo":48.6,"hi":62.6},
  {"d":"Mice","m":"IP-CAE","e":17,"y":59.5,"lo":52,"hi":67},
  {"d":"Mice","m":"IP-CAE","e":19,"y":61.8,"lo":54.3,"hi":69.3},
  {"d":"Mice","m":"IP-CAE","e":21,"y":63.4,"lo":55.4,"hi":71.4},
  {"d":"Mice","m":"IP-CAE","e":23,"y":64.6,"lo":56.1,"hi":73.1},
  {"d":"Mice","m":"IP-CAE","e":25,"y":66.2,"lo":57.2,"hi":75.2},
  {"d":"Mice","m":"IP-CAE","e":28,"y":67.8,"lo":58,"hi":77.6},
  {"d":"Mice","m":"IP-CAE","e":30,"y":68.4,"lo":58.4,"hi":78.4},
  {"d":"Mice","m":"IP-CAE","e":32,"y":69.6,"lo":59.6,"hi":79.6},
  {"d":"Mice","m":"IP-CAE","e":34,"y":70.4,"lo":60.4,"hi":80.4},
  {"d":"Mice","m":"IP-CAE","e":37,"y":71.5,"lo":61.5,"hi":81.5},
  {"d":"Mice","m":"IP-CAE","e":39,"y":72.8,"lo":63,"hi":82.6},
  {"d":"Mice","m":"IP-CAE","e":41,"y":74.7,"lo":65.5,"hi":83.9},
  {"d":"Mice","m":"IP-CAE","e":43,"y":76.7,"lo":68.2,"hi":85.2},
  {"d":"Mice","m":"IP-CAE","e":45,"y":79,"lo":71.5,"hi":86.5},
  {"d":"Mice","m":"IP-CAE","e":48,"y":81.4,"lo":74.4,"hi":88.4},
  {"d":"Mice","m":"IP-CAE","e":50,"y":82.9,"lo":76.4,"hi":89.4},
  {"d":"Mice","m":"IP-CAE","e":52,"y":84.5,"lo":78.5,"hi":90.5},
  {"d":"Mice","m":"IP-CAE","e":54,"y":86.1,"lo":81,"hi":91.2},
  {"d":"Mice","m":"IP-CAE","e":56,"y":87.6,"lo":83.1,"hi":92.1},
  {"d":"Mice","m":"IP-CAE","e":59,"y":88.7,"lo":85.2,"hi":92.2},
  {"d":"Mice","m":"IP-CAE","e":61,"y":89.7,"lo":86.7,"hi":92.7},
  {"d":"Mice","m":"IP-CAE","e":65,"y":91.2,"lo":89.2,"hi":93.2},
  {"d":"Mice","m":"IP-CAE","e":70,"y":92.3,"lo":90.8,"hi":93.8},
  {"d":"Mice","m":"IP-CAE","e":74,"y":93.1,"lo":91.8,"hi":94.4},
  {"d":"Mice","m":"IP-CAE","e":79,"y":93.7,"lo":92.6,"hi":94.8},
  {"d":"Mice","m":"IP-CAE","e":85,"y":94.3,"lo":93.3,"hi":95.3},
  {"d":"Mice","m":"IP-CAE","e":92,"y":94.6,"lo":93.7,"hi":95.5},
  {"d":"Mice","m":"IP-CAE","e":101,"y":95,"lo":94.2,"hi":95.8},
  {"d":"Mice","m":"IP-CAE","e":120,"y":95.1,"lo":94.3,"hi":95.9},
  {"d":"Mice","m":"IP-CAE","e":140,"y":95.2,"lo":94.4,"hi":96},
  {"d":"Mice","m":"IP-CAE","e":146,"y":93.8,"lo":92.8,"hi":94.8},
  {"d":"Mice","m":"IP-CAE","e":149,"y":95,"lo":94.2,"hi":95.8},
  {"d":"Mice","m":"IP-CAE","e":165,"y":95.1,"lo":94.3,"hi":95.9},
  {"d":"Mice","m":"IP-CAE","e":180,"y":95,"lo":94.2,"hi":95.8},
  {"d":"Mice","m":"IP-CAE","e":190,"y":95.3,"lo":94.5,"hi":96.1},
  {"d":"Mice","m":"IP-CAE","e":199,"y":95.6,"lo":94.8,"hi":96.4}
 ],
 "uniq": [
  {"d":"MNIST","m":"CAE","e":0,"u":75.4},{"d":"MNIST","m":"CAE","e":1,"u":76.5},{"d":"MNIST","m":"CAE","e":3,"u":76.1},{"d":"MNIST","m":"CAE","e":4,"u":71.1},{"d":"MNIST","m":"CAE","e":5,"u":65.1},{"d":"MNIST","m":"CAE","e":6,"u":69.7},{"d":"MNIST","m":"CAE","e":8,"u":73.3},{"d":"MNIST","m":"CAE","e":10,"u":76.1},{"d":"MNIST","m":"CAE","e":12,"u":77.6},{"d":"MNIST","m":"CAE","e":17,"u":80},{"d":"MNIST","m":"CAE","e":21,"u":81.1},{"d":"MNIST","m":"CAE","e":24,"u":81.5},{"d":"MNIST","m":"CAE","e":28,"u":80.4},{"d":"MNIST","m":"CAE","e":32,"u":79.7},{"d":"MNIST","m":"CAE","e":37,"u":80},{"d":"MNIST","m":"CAE","e":41,"u":80.4},{"d":"MNIST","m":"CAE","e":45,"u":80.8},{"d":"MNIST","m":"CAE","e":50,"u":82.2},{"d":"MNIST","m":"CAE","e":54,"u":83.6},{"d":"MNIST","m":"CAE","e":59,"u":84.3},{"d":"MNIST","m":"CAE","e":63,"u":82.9},{"d":"MNIST","m":"CAE","e":66,"u":82.2},{"d":"MNIST","m":"CAE","e":70,"u":83.6},{"d":"MNIST","m":"CAE","e":74,"u":84.7},{"d":"MNIST","m":"CAE","e":78,"u":86.1},{"d":"MNIST","m":"CAE","e":83,"u":85.4},{"d":"MNIST","m":"CAE","e":87,"u":85.5},{"d":"MNIST","m":"CAE","e":92,"u":85.8},{"d":"MNIST","m":"CAE","e":96,"u":86.5},{"d":"MNIST","m":"CAE","e":98,"u":86.8},{"d":"MNIST","m":"CAE","e":103,"u":85.8},{"d":"MNIST","m":"CAE","e":110,"u":85.5},{"d":"MNIST","m":"CAE","e":120,"u":85.3},{"d":"MNIST","m":"CAE","e":130,"u":84.8},{"d":"MNIST","m":"CAE","e":140,"u":84.3},{"d":"MNIST","m":"CAE","e":150,"u":84.6},{"d":"MNIST","m":"CAE","e":160,"u":84},{"d":"MNIST","m":"CAE","e":170,"u":84.3},{"d":"MNIST","m":"CAE","e":180,"u":84.6},{"d":"MNIST","m":"CAE","e":190,"u":84.1},{"d":"MNIST","m":"CAE","e":199,"u":84.8},
  {"d":"MNIST","m":"IP-CAE","e":0,"u":95.4},{"d":"MNIST","m":"IP-CAE","e":1,"u":92.5},{"d":"MNIST","m":"IP-CAE","e":3,"u":92.9},{"d":"MNIST","m":"IP-CAE","e":4,"u":93.6},{"d":"MNIST","m":"IP-CAE","e":5,"u":92.5},{"d":"MNIST","m":"IP-CAE","e":8,"u":90.4},{"d":"MNIST","m":"IP-CAE","e":10,"u":89.8},{"d":"MNIST","m":"IP-CAE","e":14,"u":89.7},{"d":"MNIST","m":"IP-CAE","e":19,"u":89.3},{"d":"MNIST","m":"IP-CAE","e":21,"u":88.8},{"d":"MNIST","m":"IP-CAE","e":23,"u":88.2},{"d":"MNIST","m":"IP-CAE","e":25,"u":89.1},{"d":"MNIST","m":"IP-CAE","e":28,"u":90.4},{"d":"MNIST","m":"IP-CAE","e":30,"u":91.8},{"d":"MNIST","m":"IP-CAE","e":32,"u":94},{"d":"MNIST","m":"IP-CAE","e":34,"u":94.7},{"d":"MNIST","m":"IP-CAE","e":36,"u":96.1},{"d":"MNIST","m":"IP-CAE","e":39,"u":96.8},{"d":"MNIST","m":"IP-CAE","e":43,"u":98.6},{"d":"MNIST","m":"IP-CAE","e":47,"u":99.3},{"d":"MNIST","m":"IP-CAE","e":52,"u":99.9},{"d":"MNIST","m":"IP-CAE","e":55,"u":100},{"d":"MNIST","m":"IP-CAE","e":199,"u":100},
  {"d":"Fashion","m":"CAE","e":0,"u":88.5},{"d":"Fashion","m":"CAE","e":1,"u":84},{"d":"Fashion","m":"CAE","e":2,"u":75},{"d":"Fashion","m":"CAE","e":3,"u":69},{"d":"Fashion","m":"CAE","e":4,"u":65},{"d":"Fashion","m":"CAE","e":5,"u":62.6},{"d":"Fashion","m":"CAE","e":7,"u":60.7},{"d":"Fashion","m":"CAE","e":10,"u":58.8},{"d":"Fashion","m":"CAE","e":12,"u":57.4},{"d":"Fashion","m":"CAE","e":14,"u":56.2},{"d":"Fashion","m":"CAE","e":18,"u":56},{"d":"Fashion","m":"CAE","e":21,"u":55.1},{"d":"Fashion","m":"CAE","e":24,"u":55.5},{"d":"Fashion","m":"CAE","e":28,"u":54.6},{"d":"Fashion","m":"CAE","e":31,"u":55.1},{"d":"Fashion","m":"CAE","e":34,"u":54.1},{"d":"Fashion","m":"CAE","e":38,"u":53.7},{"d":"Fashion","m":"CAE","e":41,"u":54.6},{"d":"Fashion","m":"CAE","e":44,"u":55.1},{"d":"Fashion","m":"CAE","e":47,"u":55.5},{"d":"Fashion","m":"CAE","e":50,"u":54.6},{"d":"Fashion","m":"CAE","e":53,"u":56.5},{"d":"Fashion","m":"CAE","e":56,"u":58.8},{"d":"Fashion","m":"CAE","e":60,"u":60.7},{"d":"Fashion","m":"CAE","e":63,"u":62.1},{"d":"Fashion","m":"CAE","e":67,"u":63.6},{"d":"Fashion","m":"CAE","e":72,"u":64.5},{"d":"Fashion","m":"CAE","e":76,"u":65.4},{"d":"Fashion","m":"CAE","e":81,"u":64.7},{"d":"Fashion","m":"CAE","e":85,"u":65.9},{"d":"Fashion","m":"CAE","e":90,"u":67.3},{"d":"Fashion","m":"CAE","e":94,"u":68.3},{"d":"Fashion","m":"CAE","e":98,"u":67.8},{"d":"Fashion","m":"CAE","e":103,"u":67.8},{"d":"Fashion","m":"CAE","e":110,"u":68.5},{"d":"Fashion","m":"CAE","e":120,"u":69},{"d":"Fashion","m":"CAE","e":130,"u":69.5},{"d":"Fashion","m":"CAE","e":140,"u":70},{"d":"Fashion","m":"CAE","e":150,"u":70.5},{"d":"Fashion","m":"CAE","e":160,"u":71.8},{"d":"Fashion","m":"CAE","e":165,"u":72.2},{"d":"Fashion","m":"CAE","e":170,"u":71.3},{"d":"Fashion","m":"CAE","e":180,"u":70.5},{"d":"Fashion","m":"CAE","e":190,"u":71.2},{"d":"Fashion","m":"CAE","e":199,"u":71.8},
  {"d":"Fashion","m":"IP-CAE","e":0,"u":95.1},{"d":"Fashion","m":"IP-CAE","e":1,"u":90.5},{"d":"Fashion","m":"IP-CAE","e":2,"u":90},{"d":"Fashion","m":"IP-CAE","e":3,"u":92.5},{"d":"Fashion","m":"IP-CAE","e":4,"u":93.7},{"d":"Fashion","m":"IP-CAE","e":7,"u":94.7},{"d":"Fashion","m":"IP-CAE","e":10,"u":95.6},{"d":"Fashion","m":"IP-CAE","e":14,"u":96.1},{"d":"Fashion","m":"IP-CAE","e":19,"u":97},{"d":"Fashion","m":"IP-CAE","e":23,"u":97},{"d":"Fashion","m":"IP-CAE","e":28,"u":97.5},{"d":"Fashion","m":"IP-CAE","e":32,"u":98},{"d":"Fashion","m":"IP-CAE","e":37,"u":98.4},{"d":"Fashion","m":"IP-CAE","e":41,"u":98.6},{"d":"Fashion","m":"IP-CAE","e":48,"u":99.4},{"d":"Fashion","m":"IP-CAE","e":54,"u":100},{"d":"Fashion","m":"IP-CAE","e":199,"u":100},
  {"d":"ISOLET","m":"CAE","e":0,"u":86.5},{"d":"ISOLET","m":"CAE","e":1,"u":84.5},{"d":"ISOLET","m":"CAE","e":2,"u":81},{"d":"ISOLET","m":"CAE","e":3,"u":75.8},{"d":"ISOLET","m":"CAE","e":4,"u":73.5},{"d":"ISOLET","m":"CAE","e":6,"u":72.8},{"d":"ISOLET","m":"CAE","e":8,"u":73.5},{"d":"ISOLET","m":"CAE","e":10,"u":71.7},{"d":"ISOLET","m":"CAE","e":13,"u":69.8},{"d":"ISOLET","m":"CAE","e":16,"u":67.6},{"d":"ISOLET","m":"CAE","e":19,"u":65.3},{"d":"ISOLET","m":"CAE","e":22,"u":63.1},{"d":"ISOLET","m":"CAE","e":25,"u":65},{"d":"ISOLET","m":"CAE","e":28,"u":67.2},{"d":"ISOLET","m":"CAE","e":32,"u":67.6},{"d":"ISOLET","m":"CAE","e":35,"u":67.2},{"d":"ISOLET","m":"CAE","e":39,"u":67.9},{"d":"ISOLET","m":"CAE","e":44,"u":68.3},{"d":"ISOLET","m":"CAE","e":48,"u":67.6},{"d":"ISOLET","m":"CAE","e":53,"u":68.3},{"d":"ISOLET","m":"CAE","e":57,"u":70.2},{"d":"ISOLET","m":"CAE","e":61,"u":72},{"d":"ISOLET","m":"CAE","e":66,"u":73.1},{"d":"ISOLET","m":"CAE","e":70,"u":72.8},{"d":"ISOLET","m":"CAE","e":75,"u":70.9},{"d":"ISOLET","m":"CAE","e":79,"u":71.7},{"d":"ISOLET","m":"CAE","e":86,"u":72},{"d":"ISOLET","m":"CAE","e":92,"u":71.7},{"d":"ISOLET","m":"CAE","e":99,"u":72.8},{"d":"ISOLET","m":"CAE","e":108,"u":72.8},{"d":"ISOLET","m":"CAE","e":117,"u":73.1},{"d":"ISOLET","m":"CAE","e":128,"u":73},{"d":"ISOLET","m":"CAE","e":139,"u":72.8},{"d":"ISOLET","m":"CAE","e":150,"u":73.5},{"d":"ISOLET","m":"CAE","e":157,"u":72.8},{"d":"ISOLET","m":"CAE","e":161,"u":73.1},{"d":"ISOLET","m":"CAE","e":172,"u":74.3},{"d":"ISOLET","m":"CAE","e":183,"u":73.9},{"d":"ISOLET","m":"CAE","e":192,"u":73.9},{"d":"ISOLET","m":"CAE","e":199,"u":73.7},
  {"d":"ISOLET","m":"IP-CAE","e":0,"u":93.2},{"d":"ISOLET","m":"IP-CAE","e":1,"u":93.9},{"d":"ISOLET","m":"IP-CAE","e":2,"u":95},{"d":"ISOLET","m":"IP-CAE","e":4,"u":94.4},{"d":"ISOLET","m":"IP-CAE","e":6,"u":94.9},{"d":"ISOLET","m":"IP-CAE","e":10,"u":95.4},{"d":"ISOLET","m":"IP-CAE","e":13,"u":96.2},{"d":"ISOLET","m":"IP-CAE","e":17,"u":97.3},{"d":"ISOLET","m":"IP-CAE","e":22,"u":97.7},{"d":"ISOLET","m":"IP-CAE","e":26,"u":98.4},{"d":"ISOLET","m":"IP-CAE","e":31,"u":98.8},{"d":"ISOLET","m":"IP-CAE","e":35,"u":99},{"d":"ISOLET","m":"IP-CAE","e":42,"u":99},{"d":"ISOLET","m":"IP-CAE","e":46,"u":99.4},{"d":"ISOLET","m":"IP-CAE","e":50,"u":99.7},{"d":"ISOLET","m":"IP-CAE","e":53,"u":100},{"d":"ISOLET","m":"IP-CAE","e":199,"u":100},
  {"d":"COIL","m":"CAE","e":0,"u":91.9},{"d":"COIL","m":"CAE","e":1,"u":84},{"d":"COIL","m":"CAE","e":2,"u":85.8},{"d":"COIL","m":"CAE","e":3,"u":86.5},{"d":"COIL","m":"CAE","e":4,"u":85.8},{"d":"COIL","m":"CAE","e":6,"u":86},{"d":"COIL","m":"CAE","e":8,"u":85.1},{"d":"COIL","m":"CAE","e":10,"u":86},{"d":"COIL","m":"CAE","e":12,"u":86.3},{"d":"COIL","m":"CAE","e":14,"u":86.5},{"d":"COIL","m":"CAE","e":17,"u":86.4},{"d":"COIL","m":"CAE","e":19,"u":86.6},{"d":"COIL","m":"CAE","e":20,"u":85.3},{"d":"COIL","m":"CAE","e":21,"u":83.9},{"d":"COIL","m":"CAE","e":23,"u":81.6},{"d":"COIL","m":"CAE","e":24,"u":79.7},{"d":"COIL","m":"CAE","e":26,"u":78.3},{"d":"COIL","m":"CAE","e":28,"u":77.4},{"d":"COIL","m":"CAE","e":29,"u":77.2},{"d":"COIL","m":"CAE","e":31,"u":78.3},{"d":"COIL","m":"CAE","e":33,"u":79.3},{"d":"COIL","m":"CAE","e":35,"u":79.7},{"d":"COIL","m":"CAE","e":38,"u":80.4},{"d":"COIL","m":"CAE","e":40,"u":79.3},{"d":"COIL","m":"CAE","e":42,"u":79.7},{"d":"COIL","m":"CAE","e":44,"u":79.5},{"d":"COIL","m":"CAE","e":46,"u":79.8},{"d":"COIL","m":"CAE","e":49,"u":79.7},{"d":"COIL","m":"CAE","e":52,"u":80},{"d":"COIL","m":"CAE","e":55,"u":78.8},{"d":"COIL","m":"CAE","e":56,"u":77.4},{"d":"COIL","m":"CAE","e":59,"u":76.9},{"d":"COIL","m":"CAE","e":61,"u":77.2},{"d":"COIL","m":"CAE","e":63,"u":76.4},{"d":"COIL","m":"CAE","e":65,"u":77.2},{"d":"COIL","m":"CAE","e":67,"u":77.4},{"d":"COIL","m":"CAE","e":70,"u":78.3},{"d":"COIL","m":"CAE","e":72,"u":79},{"d":"COIL","m":"CAE","e":74,"u":78.8},{"d":"COIL","m":"CAE","e":76,"u":79.3},{"d":"COIL","m":"CAE","e":78,"u":80.2},{"d":"COIL","m":"CAE","e":81,"u":81.1},{"d":"COIL","m":"CAE","e":83,"u":81.6},{"d":"COIL","m":"CAE","e":85,"u":82.3},{"d":"COIL","m":"CAE","e":88,"u":82.1},{"d":"COIL","m":"CAE","e":92,"u":81.4},{"d":"COIL","m":"CAE","e":95,"u":81.1},{"d":"COIL","m":"CAE","e":98,"u":80.9},{"d":"COIL","m":"CAE","e":102,"u":81.4},{"d":"COIL","m":"CAE","e":106,"u":80.6},{"d":"COIL","m":"CAE","e":112,"u":79.9},{"d":"COIL","m":"CAE","e":120,"u":80.6},{"d":"COIL","m":"CAE","e":129,"u":79.9},{"d":"COIL","m":"CAE","e":138,"u":80.1},{"d":"COIL","m":"CAE","e":147,"u":80.6},{"d":"COIL","m":"CAE","e":158,"u":80.4},{"d":"COIL","m":"CAE","e":169,"u":80.6},{"d":"COIL","m":"CAE","e":180,"u":80.8},{"d":"COIL","m":"CAE","e":191,"u":81.1},{"d":"COIL","m":"CAE","e":199,"u":80.1},
  {"d":"COIL","m":"IP-CAE","e":0,"u":95.6},{"d":"COIL","m":"IP-CAE","e":1,"u":98},{"d":"COIL","m":"IP-CAE","e":3,"u":98},{"d":"COIL","m":"IP-CAE","e":5,"u":97.7},{"d":"COIL","m":"IP-CAE","e":8,"u":97.5},{"d":"COIL","m":"IP-CAE","e":10,"u":97.1},{"d":"COIL","m":"IP-CAE","e":12,"u":97},{"d":"COIL","m":"IP-CAE","e":14,"u":97},{"d":"COIL","m":"IP-CAE","e":16,"u":96.3},{"d":"COIL","m":"IP-CAE","e":18,"u":96.1},{"d":"COIL","m":"IP-CAE","e":19,"u":96.8},{"d":"COIL","m":"IP-CAE","e":21,"u":97.5},{"d":"COIL","m":"IP-CAE","e":23,"u":98.4},{"d":"COIL","m":"IP-CAE","e":25,"u":98.9},{"d":"COIL","m":"IP-CAE","e":28,"u":99.3},{"d":"COIL","m":"IP-CAE","e":30,"u":99.1},{"d":"COIL","m":"IP-CAE","e":34,"u":99.3},{"d":"COIL","m":"IP-CAE","e":40,"u":99.4},{"d":"COIL","m":"IP-CAE","e":199,"u":99.4},
  {"d":"HAR","m":"CAE","e":0,"u":67.4},{"d":"HAR","m":"CAE","e":1,"u":55.2},{"d":"HAR","m":"CAE","e":2,"u":46},{"d":"HAR","m":"CAE","e":4,"u":39.9},{"d":"HAR","m":"CAE","e":7,"u":35.3},{"d":"HAR","m":"CAE","e":11,"u":32.3},{"d":"HAR","m":"CAE","e":14,"u":29.2},{"d":"HAR","m":"CAE","e":17,"u":24.6},{"d":"HAR","m":"CAE","e":20,"u":21.9},{"d":"HAR","m":"CAE","e":23,"u":21.6},{"d":"HAR","m":"CAE","e":27,"u":23.1},{"d":"HAR","m":"CAE","e":32,"u":24.6},{"d":"HAR","m":"CAE","e":36,"u":26.2},{"d":"HAR","m":"CAE","e":40,"u":27.7},{"d":"HAR","m":"CAE","e":47,"u":29.2},{"d":"HAR","m":"CAE","e":54,"u":30},{"d":"HAR","m":"CAE","e":60,"u":30.7},{"d":"HAR","m":"CAE","e":67,"u":29.9},{"d":"HAR","m":"CAE","e":72,"u":28.5},{"d":"HAR","m":"CAE","e":80,"u":28.8},{"d":"HAR","m":"CAE","e":91,"u":27.7},{"d":"HAR","m":"CAE","e":102,"u":27.4},{"d":"HAR","m":"CAE","e":113,"u":28.5},{"d":"HAR","m":"CAE","e":124,"u":28.5},{"d":"HAR","m":"CAE","e":133,"u":29.6},{"d":"HAR","m":"CAE","e":146,"u":29.6},{"d":"HAR","m":"CAE","e":157,"u":29.2},{"d":"HAR","m":"CAE","e":168,"u":29.6},{"d":"HAR","m":"CAE","e":180,"u":29.6},{"d":"HAR","m":"CAE","e":199,"u":29.6},
  {"d":"HAR","m":"IP-CAE","e":0,"u":86.5},{"d":"HAR","m":"IP-CAE","e":1,"u":59.7},{"d":"HAR","m":"IP-CAE","e":3,"u":65.9},{"d":"HAR","m":"IP-CAE","e":5,"u":72},{"d":"HAR","m":"IP-CAE","e":8,"u":76.6},{"d":"HAR","m":"IP-CAE","e":12,"u":80.4},{"d":"HAR","m":"IP-CAE","e":16,"u":84.2},{"d":"HAR","m":"IP-CAE","e":20,"u":87.2},{"d":"HAR","m":"IP-CAE","e":25,"u":90.3},{"d":"HAR","m":"IP-CAE","e":29,"u":92.6},{"d":"HAR","m":"IP-CAE","e":34,"u":94.1},{"d":"HAR","m":"IP-CAE","e":38,"u":95.2},{"d":"HAR","m":"IP-CAE","e":47,"u":95.9},{"d":"HAR","m":"IP-CAE","e":199,"u":95.9},
  {"d":"Mice","m":"CAE","e":0,"u":87},{"d":"Mice","m":"CAE","e":1,"u":80},{"d":"Mice","m":"CAE","e":2,"u":70},{"d":"Mice","m":"CAE","e":3,"u":63},{"d":"Mice","m":"CAE","e":4,"u":58.5},{"d":"Mice","m":"CAE","e":7,"u":54.8},{"d":"Mice","m":"CAE","e":10,"u":52.8},{"d":"Mice","m":"CAE","e":12,"u":51.8},{"d":"Mice","m":"CAE","e":14,"u":50.8},{"d":"Mice","m":"CAE","e":18,"u":52.3},{"d":"Mice","m":"CAE","e":21,"u":50.8},{"d":"Mice","m":"CAE","e":23,"u":50.3},{"d":"Mice","m":"CAE","e":24,"u":54.8},{"d":"Mice","m":"CAE","e":26,"u":58.8},{"d":"Mice","m":"CAE","e":29,"u":61.9},{"d":"Mice","m":"CAE","e":31,"u":63.9},{"d":"Mice","m":"CAE","e":33,"u":65.4},{"d":"Mice","m":"CAE","e":35,"u":66.9},{"d":"Mice","m":"CAE","e":38,"u":68.4},{"d":"Mice","m":"CAE","e":40,"u":69.4},{"d":"Mice","m":"CAE","e":43,"u":69.9},{"d":"Mice","m":"CAE","e":46,"u":68.9},{"d":"Mice","m":"CAE","e":50,"u":70.4},{"d":"Mice","m":"CAE","e":53,"u":71.9},{"d":"Mice","m":"CAE","e":55,"u":71.4},{"d":"Mice","m":"CAE","e":59,"u":69.9},{"d":"Mice","m":"CAE","e":62,"u":68.4},{"d":"Mice","m":"CAE","e":65,"u":66.9},{"d":"Mice","m":"CAE","e":70,"u":67.7},{"d":"Mice","m":"CAE","e":74,"u":67.9},{"d":"Mice","m":"CAE","e":83,"u":67.9},{"d":"Mice","m":"CAE","e":87,"u":67.4},{"d":"Mice","m":"CAE","e":92,"u":66.4},{"d":"Mice","m":"CAE","e":100,"u":66.5},{"d":"Mice","m":"CAE","e":110,"u":67.3},{"d":"Mice","m":"CAE","e":116,"u":67.3},{"d":"Mice","m":"CAE","e":118,"u":65.3},{"d":"Mice","m":"CAE","e":168,"u":65.3},{"d":"Mice","m":"CAE","e":170,"u":66},{"d":"Mice","m":"CAE","e":199,"u":66.2},
  {"d":"Mice","m":"IP-CAE","e":0,"u":96.1},{"d":"Mice","m":"IP-CAE","e":1,"u":89.5},{"d":"Mice","m":"IP-CAE","e":2,"u":83},{"d":"Mice","m":"IP-CAE","e":3,"u":78},{"d":"Mice","m":"IP-CAE","e":4,"u":73.9},{"d":"Mice","m":"IP-CAE","e":5,"u":72.9},{"d":"Mice","m":"IP-CAE","e":7,"u":74.9},{"d":"Mice","m":"IP-CAE","e":8,"u":76.9},{"d":"Mice","m":"IP-CAE","e":10,"u":80.5},{"d":"Mice","m":"IP-CAE","e":12,"u":83.5},{"d":"Mice","m":"IP-CAE","e":14,"u":87},{"d":"Mice","m":"IP-CAE","e":17,"u":89},{"d":"Mice","m":"IP-CAE","e":19,"u":91.2},{"d":"Mice","m":"IP-CAE","e":21,"u":93},{"d":"Mice","m":"IP-CAE","e":23,"u":95.6},{"d":"Mice","m":"IP-CAE","e":27,"u":97.1},{"d":"Mice","m":"IP-CAE","e":29,"u":98.6},{"d":"Mice","m":"IP-CAE","e":31,"u":97.6},{"d":"Mice","m":"IP-CAE","e":34,"u":97.3},{"d":"Mice","m":"IP-CAE","e":37,"u":98.1},{"d":"Mice","m":"IP-CAE","e":40,"u":97.6},{"d":"Mice","m":"IP-CAE","e":43,"u":98.6},{"d":"Mice","m":"IP-CAE","e":45,"u":100},{"d":"Mice","m":"IP-CAE","e":48,"u":99.9},{"d":"Mice","m":"IP-CAE","e":50,"u":98.6},{"d":"Mice","m":"IP-CAE","e":53,"u":99.9},{"d":"Mice","m":"IP-CAE","e":56,"u":100},{"d":"Mice","m":"IP-CAE","e":199,"u":100}
 ]
},
"columns": 3,
"spacing": {"row": 40, "column": 85.5},
"bounds": "flush",
"resolve": {"scale": {"color": "independent"}, "legend": {"color": "independent"}},
"concat": [
 {"title": "MNIST", "width": 330, "height": 179, "resolve": {"scale": {"y": "independent"}},
  "layer": [
   {"data": {"name": "acc"}, "transform": [{"filter": "datum.d === 'MNIST'"}],
    "layer": [
     {"mark": {"type": "area", "opacity": 0.2, "clip": true},
      "encoding": {"x": {"field": "e", "type": "quantitative", "scale": {"domain": [-9.95, 208.95], "nice": false, "zero": false}, "axis": {"values": [0, 50, 100, 150, 200], "labels": false, "ticks": false, "title": null}},
       "y": {"field": "lo", "type": "quantitative", "scale": {"domain": [19.4, 96.2], "nice": false, "zero": false}, "axis": {"values": [20, 40, 60, 80], "title": "Accuracy [%]"}},
       "y2": {"field": "hi"},
       "fill": {"field": "m", "type": "nominal", "scale": {"domain": ["CAE", "IP-CAE"], "range": ["#4C72B0", "#DD8452"]}, "legend": null}}},
     {"mark": {"type": "line", "strokeWidth": 1.5, "clip": true},
      "encoding": {"x": {"field": "e", "type": "quantitative", "scale": {"domain": [-9.95, 208.95], "nice": false, "zero": false}, "axis": {"values": [0, 50, 100, 150, 200], "labels": false, "ticks": false, "title": null}},
       "y": {"field": "y", "type": "quantitative", "scale": {"domain": [19.4, 96.2], "nice": false, "zero": false}, "axis": {"values": [20, 40, 60, 80], "title": "Accuracy [%]"}},
       "color": {"field": "m", "type": "nominal", "scale": {"domain": ["CAE", "IP-CAE"], "range": ["#4C72B0", "#DD8452"]}, "legend": {"title": null, "symbolType": "M-2.5,0H2.5"}}}}
    ]},
   {"data": {"name": "uniq"}, "transform": [{"filter": "datum.d === 'MNIST'"}],
    "mark": {"type": "line", "strokeWidth": 1.5, "strokeDash": [1.5, 2.5], "opacity": 0.55, "clip": true},
    "encoding": {"x": {"field": "e", "type": "quantitative", "scale": {"domain": [-9.95, 208.95], "nice": false, "zero": false}, "axis": {"values": [0, 50, 100, 150, 200], "labels": false, "ticks": false, "title": null}},
     "y": {"field": "u", "type": "quantitative", "scale": {"domain": [63.5, 101.8], "nice": false, "zero": false}, "axis": {"orient": "right", "grid": false, "values": [70, 80, 90, 100], "title": null}},
     "stroke": {"field": "m", "type": "nominal", "scale": {"domain": ["CAE", "IP-CAE"], "range": ["#4C72B0", "#DD8452"]}, "legend": null}}}
  ]},
 {"title": "MNIST-Fashion", "width": 330, "height": 179, "resolve": {"scale": {"y": "independent"}},
  "layer": [
   {"data": {"name": "acc"}, "transform": [{"filter": "datum.d === 'Fashion'"}],
    "layer": [
     {"mark": {"type": "area", "opacity": 0.2, "clip": true},
      "encoding": {"x": {"field": "e", "type": "quantitative", "scale": {"domain": [-9.95, 208.95], "nice": false, "zero": false}, "axis": {"values": [0, 50, 100, 150, 200], "labels": false, "ticks": false, "title": null}},
       "y": {"field": "lo", "type": "quantitative", "scale": {"domain": [19.9, 86.2], "nice": false, "zero": false}, "axis": {"values": [20, 30, 40, 50, 60, 70, 80], "title": null}},
       "y2": {"field": "hi"},
       "fill": {"field": "m", "type": "nominal", "scale": {"domain": ["CAE", "IP-CAE"], "range": ["#4C72B0", "#DD8452"]}, "legend": null}}},
     {"mark": {"type": "line", "strokeWidth": 1.5, "clip": true},
      "encoding": {"x": {"field": "e", "type": "quantitative", "scale": {"domain": [-9.95, 208.95], "nice": false, "zero": false}, "axis": {"values": [0, 50, 100, 150, 200], "labels": false, "ticks": false, "title": null}},
       "y": {"field": "y", "type": "quantitative", "scale": {"domain": [19.9, 86.2], "nice": false, "zero": false}, "axis": {"values": [20, 30, 40, 50, 60, 70, 80], "title": null}},
       "color": {"field": "m", "type": "nominal", "scale": {"domain": ["CAE", "IP-CAE"], "range": ["#4C72B0", "#DD8452"]}, "legend": {"title": null, "symbolType": "M-2.5,0H2.5"}}}}
    ]},
   {"data": {"name": "uniq"}, "transform": [{"filter": "datum.d === 'Fashion'"}],
    "mark": {"type": "line", "strokeWidth": 1.5, "strokeDash": [1.5, 2.5], "opacity": 0.55, "clip": true},
    "encoding": {"x": {"field": "e", "type": "quantitative", "scale": {"domain": [-9.95, 208.95], "nice": false, "zero": false}, "axis": {"values": [0, 50, 100, 150, 200], "labels": false, "ticks": false, "title": null}},
     "y": {"field": "u", "type": "quantitative", "scale": {"domain": [51.6, 102.2], "nice": false, "zero": false}, "axis": {"orient": "right", "grid": false, "values": [60, 70, 80, 90, 100], "title": null}},
     "stroke": {"field": "m", "type": "nominal", "scale": {"domain": ["CAE", "IP-CAE"], "range": ["#4C72B0", "#DD8452"]}, "legend": null}}}
  ]},
 {"title": "ISOLET", "width": 330, "height": 179, "resolve": {"scale": {"y": "independent"}},
  "layer": [
   {"data": {"name": "acc"}, "transform": [{"filter": "datum.d === 'ISOLET'"}],
    "layer": [
     {"mark": {"type": "area", "opacity": 0.2, "clip": true},
      "encoding": {"x": {"field": "e", "type": "quantitative", "scale": {"domain": [-9.95, 208.95], "nice": false, "zero": false}, "axis": {"values": [0, 50, 100, 150, 200], "labels": false, "ticks": false, "title": null}},
       "y": {"field": "lo", "type": "quantitative", "scale": {"domain": [11.5, 97.8], "nice": false, "zero": false}, "axis": {"values": [20, 40, 60, 80], "title": null}},
       "y2": {"field": "hi"},
       "fill": {"field": "m", "type": "nominal", "scale": {"domain": ["CAE", "IP-CAE"], "range": ["#4C72B0", "#DD8452"]}, "legend": null}}},
     {"mark": {"type": "line", "strokeWidth": 1.5, "clip": true},
      "encoding": {"x": {"field": "e", "type": "quantitative", "scale": {"domain": [-9.95, 208.95], "nice": false, "zero": false}, "axis": {"values": [0, 50, 100, 150, 200], "labels": false, "ticks": false, "title": null}},
       "y": {"field": "y", "type": "quantitative", "scale": {"domain": [11.5, 97.8], "nice": false, "zero": false}, "axis": {"values": [20, 40, 60, 80], "title": null}},
       "color": {"field": "m", "type": "nominal", "scale": {"domain": ["CAE", "IP-CAE"], "range": ["#4C72B0", "#DD8452"]}, "legend": {"title": null, "symbolType": "M-2.5,0H2.5"}}}}
    ]},
   {"data": {"name": "uniq"}, "transform": [{"filter": "datum.d === 'ISOLET'"}],
    "mark": {"type": "line", "strokeWidth": 1.5, "strokeDash": [1.5, 2.5], "opacity": 0.55, "clip": true},
    "encoding": {"x": {"field": "e", "type": "quantitative", "scale": {"domain": [-9.95, 208.95], "nice": false, "zero": false}, "axis": {"values": [0, 50, 100, 150, 200], "labels": false, "ticks": false, "title": null}},
     "y": {"field": "u", "type": "quantitative", "scale": {"domain": [61.3, 101.2], "nice": false, "zero": false}, "axis": {"orient": "right", "grid": false, "values": [70, 80, 90, 100], "title": "Unique percentage [%]", "titleAngle": 270, "titlePadding": 9}},
     "stroke": {"field": "m", "type": "nominal", "scale": {"domain": ["CAE", "IP-CAE"], "range": ["#4C72B0", "#DD8452"]}, "legend": null}}}
  ]},
 {"title": "COIL-20", "width": 330, "height": 179, "resolve": {"scale": {"y": "independent"}},
  "layer": [
   {"data": {"name": "acc"}, "transform": [{"filter": "datum.d === 'COIL'"}],
    "layer": [
     {"mark": {"type": "area", "opacity": 0.2, "clip": true},
      "encoding": {"x": {"field": "e", "type": "quantitative", "scale": {"domain": [-9.95, 208.95], "nice": false, "zero": false}, "axis": {"values": [0, 50, 100, 150, 200], "title": "Epoch"}},
       "y": {"field": "lo", "type": "quantitative", "scale": {"domain": [16.6, 104.8], "nice": false, "zero": false}, "axis": {"values": [20, 40, 60, 80, 100], "title": "Accuracy [%]"}},
       "y2": {"field": "hi"},
       "fill": {"field": "m", "type": "nominal", "scale": {"domain": ["CAE", "IP-CAE"], "range": ["#4C72B0", "#DD8452"]}, "legend": null}}},
     {"mark": {"type": "line", "strokeWidth": 1.5, "clip": true},
      "encoding": {"x": {"field": "e", "type": "quantitative", "scale": {"domain": [-9.95, 208.95], "nice": false, "zero": false}, "axis": {"values": [0, 50, 100, 150, 200], "title": "Epoch"}},
       "y": {"field": "y", "type": "quantitative", "scale": {"domain": [16.6, 104.8], "nice": false, "zero": false}, "axis": {"values": [20, 40, 60, 80, 100], "title": "Accuracy [%]"}},
       "color": {"field": "m", "type": "nominal", "scale": {"domain": ["CAE", "IP-CAE"], "range": ["#4C72B0", "#DD8452"]}, "legend": {"title": null, "symbolType": "M-2.5,0H2.5"}}}}
    ]},
   {"data": {"name": "uniq"}, "transform": [{"filter": "datum.d === 'COIL'"}],
    "mark": {"type": "line", "strokeWidth": 1.5, "strokeDash": [1.5, 2.5], "opacity": 0.55, "clip": true},
    "encoding": {"x": {"field": "e", "type": "quantitative", "scale": {"domain": [-9.95, 208.95], "nice": false, "zero": false}, "axis": {"values": [0, 50, 100, 150, 200], "title": "Epoch"}},
     "y": {"field": "u", "type": "quantitative", "scale": {"domain": [75.2, 100.3], "nice": false, "zero": false}, "axis": {"orient": "right", "grid": false, "values": [80, 85, 90, 95, 100], "title": null}},
     "stroke": {"field": "m", "type": "nominal", "scale": {"domain": ["CAE", "IP-CAE"], "range": ["#4C72B0", "#DD8452"]}, "legend": null}}}
  ]},
 {"title": "Smartphone HAR", "width": 330, "height": 179, "resolve": {"scale": {"y": "independent"}},
  "layer": [
   {"data": {"name": "acc"}, "transform": [{"filter": "datum.d === 'HAR'"}],
    "layer": [
     {"mark": {"type": "area", "opacity": 0.2, "clip": true},
      "encoding": {"x": {"field": "e", "type": "quantitative", "scale": {"domain": [-9.95, 208.95], "nice": false, "zero": false}, "axis": {"values": [0, 50, 100, 150, 200], "title": "Epoch"}},
       "y": {"field": "lo", "type": "quantitative", "scale": {"domain": [25.6, 102], "nice": false, "zero": false}, "axis": {"values": [40, 60, 80, 100], "title": null}},
       "y2": {"field": "hi"},
       "fill": {"field": "m", "type": "nominal", "scale": {"domain": ["CAE", "IP-CAE"], "range": ["#4C72B0", "#DD8452"]}, "legend": null}}},
     {"mark": {"type": "line", "strokeWidth": 1.5, "clip": true},
      "encoding": {"x": {"field": "e", "type": "quantitative", "scale": {"domain": [-9.95, 208.95], "nice": false, "zero": false}, "axis": {"values": [0, 50, 100, 150, 200], "title": "Epoch"}},
       "y": {"field": "y", "type": "quantitative", "scale": {"domain": [25.6, 102], "nice": false, "zero": false}, "axis": {"values": [40, 60, 80, 100], "title": null}},
       "color": {"field": "m", "type": "nominal", "scale": {"domain": ["CAE", "IP-CAE"], "range": ["#4C72B0", "#DD8452"]}, "legend": {"title": null, "symbolType": "M-2.5,0H2.5"}}}}
    ]},
   {"data": {"name": "uniq"}, "transform": [{"filter": "datum.d === 'HAR'"}],
    "mark": {"type": "line", "strokeWidth": 1.5, "strokeDash": [1.5, 2.5], "opacity": 0.55, "clip": true},
    "encoding": {"x": {"field": "e", "type": "quantitative", "scale": {"domain": [-9.95, 208.95], "nice": false, "zero": false}, "axis": {"values": [0, 50, 100, 150, 200], "title": "Epoch"}},
     "y": {"field": "u", "type": "quantitative", "scale": {"domain": [17.6, 99.6], "nice": false, "zero": false}, "axis": {"orient": "right", "grid": false, "values": [20, 40, 60, 80], "title": null}},
     "stroke": {"field": "m", "type": "nominal", "scale": {"domain": ["CAE", "IP-CAE"], "range": ["#4C72B0", "#DD8452"]}, "legend": null}}}
  ]},
 {"title": "Mice Protein", "width": 330, "height": 179, "resolve": {"scale": {"y": "independent"}},
  "layer": [
   {"data": {"name": "acc"}, "transform": [{"filter": "datum.d === 'Mice'"}],
    "layer": [
     {"mark": {"type": "area", "opacity": 0.2, "clip": true},
      "encoding": {"x": {"field": "e", "type": "quantitative", "scale": {"domain": [-9.95, 208.95], "nice": false, "zero": false}, "axis": {"values": [0, 50, 100, 150, 200], "title": "Epoch"}},
       "y": {"field": "lo", "type": "quantitative", "scale": {"domain": [17, 100.9], "nice": false, "zero": false}, "axis": {"values": [20, 40, 60, 80, 100], "title": null}},
       "y2": {"field": "hi"},
       "fill": {"field": "m", "type": "nominal", "scale": {"domain": ["CAE", "IP-CAE"], "range": ["#4C72B0", "#DD8452"]}, "legend": null}}},
     {"mark": {"type": "line", "strokeWidth": 1.5, "clip": true},
      "encoding": {"x": {"field": "e", "type": "quantitative", "scale": {"domain": [-9.95, 208.95], "nice": false, "zero": false}, "axis": {"values": [0, 50, 100, 150, 200], "title": "Epoch"}},
       "y": {"field": "y", "type": "quantitative", "scale": {"domain": [17, 100.9], "nice": false, "zero": false}, "axis": {"values": [20, 40, 60, 80, 100], "title": null}},
       "color": {"field": "m", "type": "nominal", "scale": {"domain": ["CAE", "IP-CAE"], "range": ["#4C72B0", "#DD8452"]}, "legend": {"title": null, "symbolType": "M-2.5,0H2.5"}}}}
    ]},
   {"data": {"name": "uniq"}, "transform": [{"filter": "datum.d === 'Mice'"}],
    "mark": {"type": "line", "strokeWidth": 1.5, "strokeDash": [1.5, 2.5], "opacity": 0.55, "clip": true},
    "encoding": {"x": {"field": "e", "type": "quantitative", "scale": {"domain": [-9.95, 208.95], "nice": false, "zero": false}, "axis": {"values": [0, 50, 100, 150, 200], "title": "Epoch"}},
     "y": {"field": "u", "type": "quantitative", "scale": {"domain": [48.1, 102.1], "nice": false, "zero": false}, "axis": {"orient": "right", "grid": false, "values": [50, 60, 70, 80, 90, 100], "title": "Unique percentage [%]", "titleAngle": 270, "titlePadding": 9}},
     "stroke": {"field": "m", "type": "nominal", "scale": {"domain": ["CAE", "IP-CAE"], "range": ["#4C72B0", "#DD8452"]}, "legend": null}}}
  ]}
]
}
